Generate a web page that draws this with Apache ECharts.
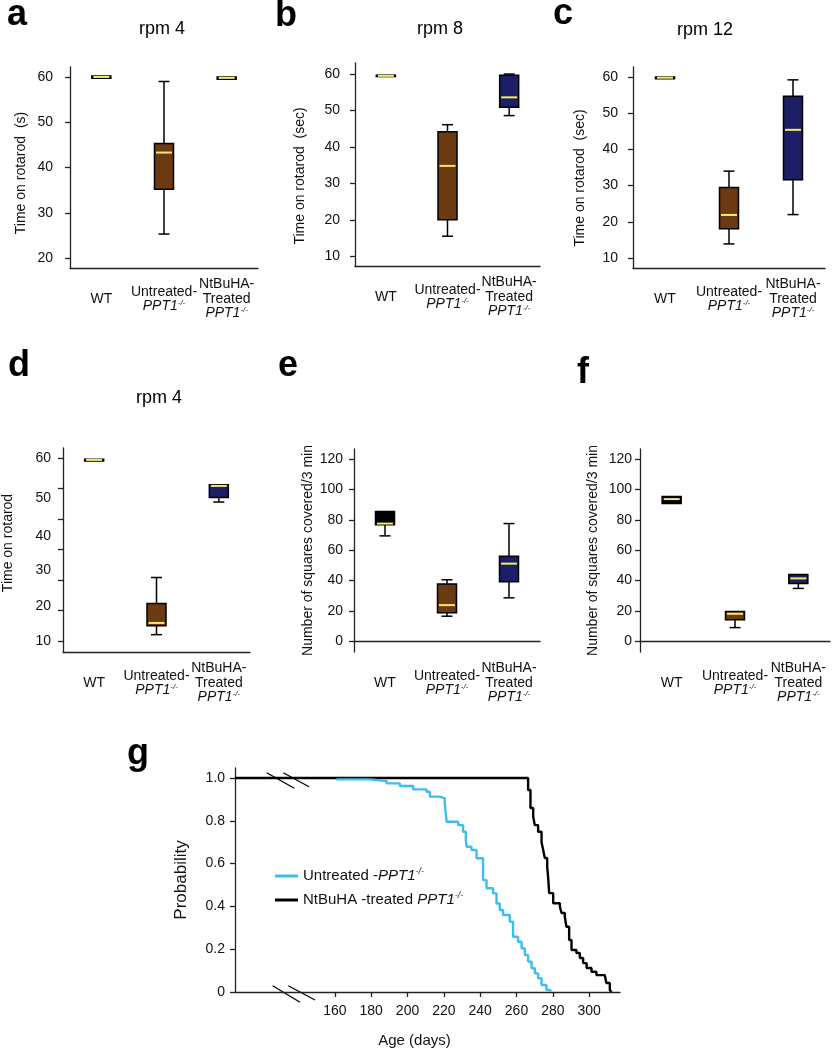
<!DOCTYPE html>
<html>
<head>
<meta charset="utf-8">
<title>PPT1 rotarod, open field and survival</title>
<script src="https://cdn.jsdelivr.net/npm/echarts@6/dist/echarts.min.js"></script>
<style>body{margin:0;background:#fff;}</style>
</head>
<body>
<div id="main" style="width:835px;height:1050px;"></div>
<script type="text/javascript">
// groups on every box panel
var groups = ['WT', 'Untreated', 'NtBuHA'];
var groupLabels = ['WT', 'Untreated-\n{i|PPT1}{s|-/-}', 'NtBuHA-\nTreated\n{i|PPT1}{s|-/-}'];
var boxColors = ['#000000', '#6b3912', '#1d1f66'];

// box values: [low whisker, q1, median, q3, high whisker]
var boxA = [[59.7, 59.7, 60.0, 60.2, 60.2], [25.3, 35.2, 43.3, 45.3, 59.0], [59.5, 59.5, 59.8, 60.0, 60.0]];
var boxB = [[59.3, 59.3, 59.5, 59.7, 59.7], [15.5, 20.0, 34.8, 44.2, 46.1], [48.6, 50.9, 53.6, 59.7, 60.0]];
var boxC = [[59.5, 59.5, 59.8, 60.0, 60.0], [13.9, 18.1, 21.9, 29.5, 34.0], [22.0, 31.6, 45.4, 54.7, 59.2]];
var boxD = [[59.2, 59.2, 59.5, 59.7, 59.7], [11.8, 14.2, 15.0, 20.3, 27.4], [48.0, 49.2, 52.4, 52.7, 52.7]];
var boxE = [[69.4, 76.8, 77.5, 85.4, 85.4], [16.5, 18.7, 23.8, 37.7, 40.5], [28.6, 39.2, 51.1, 55.9, 77.5]];
var boxF = [[90.7, 90.7, 93.6, 95.3, 95.3], [9.0, 14.1, 18.1, 19.6, 19.9], [34.8, 38.1, 41.4, 44.0, 44.0]];

// y tick labels
var ticksA = [20, 30, 40, 50, 60];
var ticks10 = [10, 20, 30, 40, 50, 60];
var ticksSq = [0, 20, 40, 60, 80, 100, 120];
// panel d: seven tick marks, six labels that do not sit on them (as printed)
var ticksD = [10, 18.33, 26.67, 35, 43.33, 51.67, 60];
var labelPosD = [10, 19.5, 29.5, 38.6, 49.1, 60];
var labelTextD = ['10', '20', '30', '40', '50', '60'];

// survival (Kaplan-Meier) steps: day of drop, probability after drop
var untreatedDays = [160.9, 179.3, 188.5, 195.8, 203.1, 210.5, 212.3, 217.8, 220.5, 221.5, 227.9, 230.6, 232.1, 232.5, 235.2, 238.0, 241.6, 243.5, 247.1, 249.0, 250.8, 252.6, 256.3, 258.1, 260.9, 262.8, 264.6, 266.4, 268.3, 270.1, 271.9, 273.8, 276.5, 278.7];
var untreatedProb = [0.994, 0.986, 0.975, 0.963, 0.947, 0.936, 0.913, 0.905, 0.882, 0.796, 0.780, 0.749, 0.710, 0.679, 0.664, 0.625, 0.523, 0.485, 0.461, 0.414, 0.383, 0.360, 0.329, 0.258, 0.235, 0.204, 0.173, 0.142, 0.111, 0.087, 0.064, 0.033, 0.009, 0];
var treatedDays = [105, 266.4, 267.7, 269.2, 270.1, 271.9, 273.8, 274.7, 275.6, 276.9, 277.4, 278.0, 280.2, 283.9, 284.8, 286.6, 287.5, 289.0, 290.3, 293.0, 294.9, 296.7, 298.6, 301.3, 304.0, 308.6, 309.5, 311.4, 312.3];
var treatedProb = [1, 0.944, 0.860, 0.819, 0.780, 0.749, 0.700, 0.664, 0.626, 0.586, 0.539, 0.462, 0.415, 0.399, 0.369, 0.352, 0.305, 0.243, 0.196, 0.182, 0.159, 0.135, 0.112, 0.095, 0.079, 0.072, 0.042, 0.009, 0];
var ageTicks = [160, 180, 200, 220, 240, 260, 280, 300];
var probTicks = [0, 0.2, 0.4, 0.6, 0.8, 1.0];

var FONT = "'Liberation Sans', Arial, sans-serif";
var axisColor = '#222';

function pairs(xs, ys) {
    var out = [];
    for (var i = 0; i < xs.length; i++) out.push([xs[i], ys[i]]);
    return out;
}

// box with narrow whisker caps and a yellow median
function renderBox(params, api) {
    var c = api.value(0);
    var lo = api.coord([c, api.value(1)]);
    var q1 = api.coord([c, api.value(2)]);
    var md = api.coord([c, api.value(3)]);
    var q3 = api.coord([c, api.value(4)]);
    var hi = api.coord([c, api.value(5)]);
    var cx = lo[0], hw = 9.5, cw = 5.5;
    var ln = {stroke: '#000', lineWidth: 1.5};
    var kids = [];
    if (hi[1] < q3[1] - 0.5) {
        kids.push({type: 'line', shape: {x1: cx, y1: hi[1], x2: cx, y2: q3[1]}, style: ln});
        kids.push({type: 'line', shape: {x1: cx - cw, y1: hi[1], x2: cx + cw, y2: hi[1]}, style: ln});
    }
    if (lo[1] > q1[1] + 0.5) {
        kids.push({type: 'line', shape: {x1: cx, y1: q1[1], x2: cx, y2: lo[1]}, style: ln});
        kids.push({type: 'line', shape: {x1: cx - cw, y1: lo[1], x2: cx + cw, y2: lo[1]}, style: ln});
    }
    kids.push({type: 'rect', shape: {x: cx - hw, y: q3[1], width: hw * 2, height: Math.max(q1[1] - q3[1], 1)},
        style: {fill: api.visual('color'), stroke: '#000', lineWidth: 1.5}});
    kids.push({type: 'line', shape: {x1: cx - hw + 1.5, y1: md[1], x2: cx + hw - 1.5, y2: md[1]},
        style: {stroke: '#f6ec62', lineWidth: 2}});
    return {type: 'group', children: kids};
}

function boxSeries(idx, boxes) {
    return {
        type: 'custom',
        xAxisIndex: idx, yAxisIndex: idx,
        renderItem: renderBox,
        encode: {x: 0, y: [1, 2, 3, 4, 5]},
        data: boxes.map(function (b, i) {
            return {value: [i].concat(b), itemStyle: {color: boxColors[i]}};
        })
    };
}

function catAxis(idx) {
    return {
        type: 'category', gridIndex: idx, data: groups,
        axisLine: {lineStyle: {color: axisColor, width: 1.3}},
        axisTick: {alignWithLabel: true, length: 5, lineStyle: {color: axisColor, width: 1.3}},
        axisLabel: {
            interval: 0, margin: 31, verticalAlign: 'middle', align: 'center',
            color: '#111', fontSize: 14, fontFamily: FONT, lineHeight: 14.5,
            formatter: function (v, i) { return groupLabels[i]; },
            rich: {
                i: {fontStyle: 'italic', fontSize: 14, fontFamily: FONT, color: '#111', lineHeight: 14.5},
                s: {fontStyle: 'italic', fontSize: 8, fontFamily: FONT, color: '#111', verticalAlign: 'top', lineHeight: 14.5}
            }
        },
        splitLine: {show: false}
    };
}

function valAxis(idx, min, max, ticks, name, gap, pad, margin, labelVals, fmt) {
    var label = {customValues: labelVals || ticks, margin: margin, color: '#111', fontSize: 14, fontFamily: FONT};
    if (fmt) label.formatter = fmt;
    return {
        type: 'value', gridIndex: idx, min: min, max: max,
        name: name, nameLocation: 'middle', nameGap: gap,
        nameTextStyle: {fontSize: 14, color: '#111', fontFamily: FONT, padding: pad},
        axisLine: {show: true, lineStyle: {color: axisColor, width: 1.3}},
        axisTick: {show: true, length: 5, customValues: ticks, lineStyle: {color: axisColor, width: 1.3}},
        axisLabel: label,
        splitLine: {show: false}
    };
}

function letter(t, x, baseline) {
    return {type: 'text', x: x, y: baseline - 11,
        style: {text: t, font: 'bold 36px ' + FONT, fill: '#000', verticalAlign: 'middle'}};
}
function heading(t, cx, baseline) {
    return {type: 'text', x: cx, y: baseline - 5.5,
        style: {text: t, font: '18px ' + FONT, fill: '#000', align: 'center', verticalAlign: 'middle'}};
}

var myChart = echarts.init(document.getElementById('main'));

var option = {
    backgroundColor: '#fff',
    animation: false,
    grid: [
        {left: 70, top: 67, width: 188, height: 201},
        {left: 355, top: 63, width: 185, height: 203},
        {left: 633, top: 67, width: 192, height: 201},
        {left: 62, top: 448, width: 188, height: 204},
        {left: 354, top: 449, width: 186, height: 203},
        {left: 640, top: 449, width: 190, height: 203},
        {left: 235, top: 768, width: 385, height: 224}
    ],
    xAxis: [
        catAxis(0), catAxis(1), catAxis(2), catAxis(3), catAxis(4), catAxis(5),
        {
            type: 'value', gridIndex: 6, min: 105, max: 317,
            name: 'Age (days)', nameLocation: 'middle', nameGap: 41,
            nameTextStyle: {fontSize: 15, color: '#111', fontFamily: FONT, padding: [0, 26, 0, 0]},
            axisLine: {lineStyle: {color: axisColor, width: 1.3}},
            axisTick: {show: true, length: 5, customValues: ageTicks, lineStyle: {color: axisColor, width: 1.3}},
            axisLabel: {customValues: ageTicks, margin: 12, color: '#111', fontSize: 14, fontFamily: FONT},
            splitLine: {show: false}
        }
    ],
    yAxis: [
        valAxis(0, 17.8, 62.2, ticksA, 'Time on rotarod  (s)', 42, [0, 11, 0, 0], 17),
        valAxis(1, 7.33, 63.03, ticks10, 'Time on rotarod  (sec)', 48, [0, 23, 0, 0], 15),
        valAxis(2, 7.25, 62.75, ticks10, 'Time on rotarod  (sec)', 46, [0, 21, 0, 0], 15),
        valAxis(3, 7.07, 62.74, ticksD, 'Time on rotarod', 48, [0, 0, 0, 14], 12, labelPosD,
            function (v) { return labelTextD[labelPosD.indexOf(v)]; }),
        valAxis(4, -7.07, 126.6, ticksSq, 'Number of squares covered/3 min', 39, 0, 11),
        valAxis(5, -7.07, 126.6, ticksSq, 'Number of squares covered/3 min', 40, 0, 8),
        {
            type: 'value', gridIndex: 6, min: 0, max: 1.047,
            name: 'Probability', nameLocation: 'middle', nameGap: 45,
            nameTextStyle: {fontSize: 17, color: '#111', fontFamily: FONT},
            axisLine: {show: true, lineStyle: {color: axisColor, width: 1.3}},
            axisTick: {show: true, length: 5, customValues: probTicks, lineStyle: {color: axisColor, width: 1.3}},
            axisLabel: {customValues: probTicks, margin: 10, color: '#111', fontSize: 14, fontFamily: FONT,
                formatter: function (v) { return v === 0 ? '0' : v.toFixed(1); }},
            splitLine: {show: false}
        }
    ],
    legend: {
        orient: 'vertical', left: 275, top: 867, padding: 0,
        icon: 'rect', itemWidth: 23, itemHeight: 3, itemGap: 6,
        data: ['untreated', 'treated'],
        formatter: function (n) {
            return n === 'untreated' ? 'Untreated -{i|PPT1}{s|-/-}' : 'NtBuHA -treated {i|PPT1}{s|-/-}';
        },
        textStyle: {
            fontSize: 15, color: '#111', fontFamily: FONT, lineHeight: 18,
            rich: {
                i: {fontStyle: 'italic', fontSize: 15, fontFamily: FONT, color: '#111', lineHeight: 18},
                s: {fontStyle: 'italic', fontSize: 9, fontFamily: FONT, color: '#111', verticalAlign: 'top', lineHeight: 18}
            }
        }
    },
    series: [
        boxSeries(0, boxA), boxSeries(1, boxB), boxSeries(2, boxC),
        boxSeries(3, boxD), boxSeries(4, boxE), boxSeries(5, boxF),
        {
            name: 'untreated', type: 'line', step: 'end', xAxisIndex: 6, yAxisIndex: 6,
            showSymbol: false, color: '#3ebdf0', lineStyle: {width: 2.4, color: '#3ebdf0'},
            data: pairs(untreatedDays, untreatedProb), z: 3
        },
        {
            name: 'treated', type: 'line', step: 'end', xAxisIndex: 6, yAxisIndex: 6,
            showSymbol: false, color: '#000', lineStyle: {width: 2.4, color: '#000'},
            data: pairs(treatedDays, treatedProb), z: 2
        }
    ],
    graphic: [
        letter('a', 7, 26), letter('b', 275, 27), letter('c', 553, 25),
        letter('d', 8, 377), letter('e', 278, 377), letter('f', 577, 384),
        letter('g', 127, 765),
        heading('rpm 4', 162, 35), heading('rpm 8', 440, 35), heading('rpm 12', 705, 36),
        heading('rpm 4', 159, 404),
        // axis break marks on panel g
        {type: 'line', shape: {x1: 266.7, y1: 772.7, x2: 294.3, y2: 788.3}, style: {stroke: '#000', lineWidth: 1.3}},
        {type: 'line', shape: {x1: 283.3, y1: 772.7, x2: 309, y2: 786.7}, style: {stroke: '#000', lineWidth: 1.3}},
        {type: 'line', shape: {x1: 272.7, y1: 985.7, x2: 300, y2: 1002.3}, style: {stroke: '#000', lineWidth: 1.3}},
        {type: 'line', shape: {x1: 288.3, y1: 985.7, x2: 315, y2: 1000}, style: {stroke: '#000', lineWidth: 1.3}}
    ]
};

myChart.setOption(option);
</script>
</body>
</html>
